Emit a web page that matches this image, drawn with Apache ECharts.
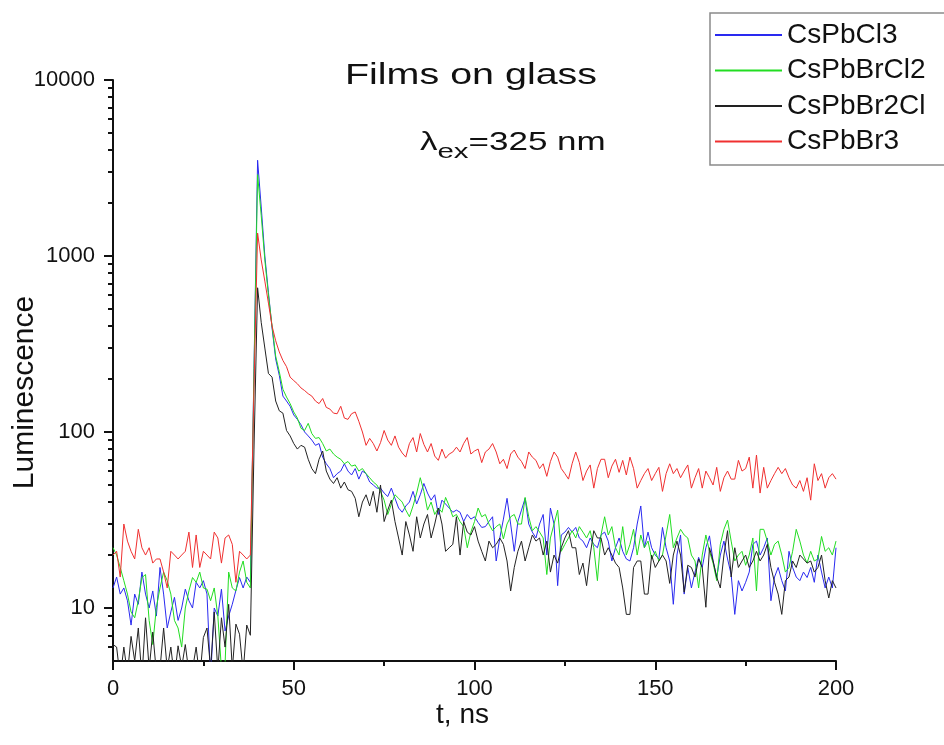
<!DOCTYPE html>
<html>
<head>
<meta charset="utf-8">
<script src="https://cdn.jsdelivr.net/npm/echarts@6/dist/echarts.min.js"></script>
<style>html,body{margin:0;padding:0;background:#fff;}#c{width:944px;height:745px;}</style>
</head>
<body>
<div id="c"></div>
<script>
// time axis: t = 0..200 ns, 1 ns channels
const tStart = 0, tStep = 1, nPts = 201;
const seriesNames = ['CsPbCl3', 'CsPbBrCl2', 'CsPbBr2Cl', 'CsPbBr3'];
const xTicks = [0, 50, 100, 150, 200];
const yMajorTicks = [10, 100, 1000, 10000];
const yMinorTicks = [6, 7, 8, 9, 20, 30, 40, 50, 60, 70, 80, 90, 200, 300, 400, 500, 600, 700, 800, 900, 2000, 3000, 4000, 5000, 6000, 7000, 8000, 9000];

const CsPbCl3 = [
13,15,12,13,11,8,12,10.5,16,12,
10,12.5,9,17,12,7.7,9.5,11.5,8.5,10,
12.8,11,10,14,13,14.3,12,4,10,9,
12.8,7.4,9,10.5,12.6,14.9,13,15,14,230,
3500,1900,1000,620,390,260,210,160,150,140,
125,118,110,100,95,90,84,86,72,66,
62,55,58,60,66,60,57,62,54,60,
58,52,50,48,48,45,43,48,42,37,
35,38,40,46,39,44,51,45,41,44,
34,41,39,37,35,36,35,31,34,32,
33,30.6,28.7,29,31,33,18.5,25,32,42,
30,21,31,36,42,30,27,25,30,34,
20,37,30,13.4,26,27,28.7,27,28.7,25,
24,22,25,23,22,26,27,24,18.5,22,
25,21,19,18.5,22,30,38,22,27,22,
20,19,28.7,22,18.5,10.5,20,26,12,17,
13,16,19.4,17,22,25.7,18.5,14.9,20,24,
19,15.5,9.2,14.3,12.5,14,16,23,24,20,
22,25,11,15,17,14.3,12.5,21,17,15,
14.3,16,14.9,17,14,20,16,13,15,13,
22];

const CsPbBrCl2 = [
22,20,17,14.3,12,9.5,8.8,11,14.9,15.5,
8.5,6.2,10.1,13,16,14.3,12,8.5,7.7,6,
10,12.5,14.9,14,16,13,12.8,11,13,9,
4.5,4.8,16,13,12.5,16,18.5,14,13,220,
2900,1700,950,600,400,270,220,175,158,145,
130,120,105,102,112,98,92,93,86,78,
80,75,72,70,66,68,64,65,60,62,
58,55,52,50,46,41,34,39,44,42,
40,36,33,38,45,55,46,36,40,34,
37,35,42.5,38,33,34,31,29,22,27,
31,37,33,34,30,27.5,29,30,24.7,30,
33,34,30,30,42.5,33,27.5,29,27,25,
15.5,25,30,36,21,23,25,27.5,25,29,
27,25,27.5,22,14.3,26,33,26,29,22,
20,29,20,23,28,20,26,22,24,19,
21,18.5,20,26,34,22,25,28,26,25,
20,18.5,13,20,26,21,18,14.3,23,28,
31.6,24,18.5,20,21,17.5,20,25,12.5,28,
28,24,20,23,24,20,16,17,21,28,
24,20,18,21,18.5,19,25.5,21,22,20,
24];

const CsPbBr2Cl = [
6.2,6,4,6,4.2,6.9,5,7.7,4,8.8,
4.5,7.3,4.3,4.5,7.7,4.5,6,4,6.1,4.6,
6.2,4.3,4.5,6,4,6.8,7.7,4.5,9.5,4.4,
8.8,6,10.5,4.5,8.1,7.1,4.3,8,7,80,
660,420,300,215,205,150,132,128,102,95,
86,80,84,82,70,62,58,70,78,60,
54,51,55,48,52,47,46,42,33,40,
44,38,46,35,50,31,36,41,31,25,
20,31,26,21,33,25,30,34,25,30,
37,30,21,22,23,33,20,31,27,26,
29,24,21,18.5,24,22,23,25,23,18.5,
12.5,17,21,24,18.5,22,26,24,25,20,
24,16,20,18,22,25,27.5,22,22,15.5,
18,13.4,20,27.5,25,25,20,22,20,18,
17,13,9.2,9.2,17,18.5,18.5,12,12,20,
17,18.5,20,18.5,13.8,20,24,20,12.3,17.5,
17,15,19,17,10.1,22,18.5,15,13,20,
27.5,15,22,17,18.5,20,17,18.5,21,18.5,
20,23,17,14,12,9.2,14.3,15,18.5,17,
20,19,18,18.5,16,17,20,14.3,11.4,14.3,
13];

const CsPbBr3 = [
20,21,15,30,24,21,19,28,22,20,
22,18,19,19,16,13,21,20,19,20,
21,27,17,26,17,21,20,19,27,25,
18,25,26,23,14,21,20,19,20,180,
1350,950,720,540,400,330,285,255,235,205,
196,188,178,172,165,160,150,145,155,138,
135,128,127,140,120,118,127,130,115,100,
84,92,86,78,87,102,90,84,95,82,
76,72,86,93,77,98,85,77,86,73,
69,80,71,75,77,82,77,86,93,75,
78,80,67,77,80,86,77,66,70,62,
75,79,72,68,62,77,72,69,62,66,
56,68,77,72,62,58,54,66,77,67,
53,60,65,48,62,70,70,55,64,70,
59,69,57,72,62,48,53,58,62,53,
58,63,46,58,66,58,62,55,60,65,
48,55,62,48,60,55,50,63,46,55,
60,54,54,69,60,62,72,48,74,45,
63,48,53,58,63,58,62,55,50,48,
53,46,55,41,66,53,58,48,55,58,
54];

const seriesValues = [CsPbCl3, CsPbBrCl2, CsPbBr2Cl, CsPbBr3];
const seriesColors = ['#2a2af0', '#22dd22', '#222222', '#f03030'];

function pairs(vals) {
  return vals.map((v, i) => [tStart + i * tStep, v]);
}

const FONT = '"Liberation Sans", Arial, sans-serif';
const chart = echarts.init(document.getElementById('c'), null, {renderer: 'canvas', width: 944, height: 745});

chart.setOption({
  animation: false,
  backgroundColor: '#ffffff',
  grid: {left: 113, right: 108, top: 80, bottom: 84, containLabel: false, outerBoundsMode: 'none'},
  legend: {
    orient: 'vertical',
    left: 710, top: 13,
    padding: [7, 6, 7, 4],
    itemWidth: 67, itemHeight: 14, itemGap: 5.5,
    itemStyle: {opacity: 0},
    textStyle: {fontFamily: FONT, fontSize: 28, lineHeight: 30, color: '#111'},
    data: seriesNames
  },
  xAxis: {
    type: 'value', min: 0, max: 200, interval: 50,
    name: 't, ns', nameLocation: 'middle', nameGap: 40, nameMoveOverlap: false,
    nameTextStyle: {fontFamily: FONT, fontSize: 28, color: '#111', padding: [0, 24, 0, 0]},
    axisLine: {show: true, onZero: false, lineStyle: {color: '#111', width: 2}},
    axisTick: {show: true, inside: false, length: 9, lineStyle: {color: '#111', width: 2}, customValues: xTicks},
    minorTick: {show: true, splitNumber: 2, length: 5, lineStyle: {color: '#111', width: 2}},
    axisLabel: {fontFamily: FONT, fontSize: 22, color: '#111', margin: 17, customValues: xTicks},
    splitLine: {show: false}
  },
  yAxis: [{
    type: 'log', logBase: 10, min: 5, max: 10000,
    name: 'Luminescence', nameLocation: 'middle', nameGap: 73, nameMoveOverlap: false,
    nameTextStyle: {fontFamily: FONT, fontSize: 30, color: '#111', padding: [0, 44, 0, 0]},
    axisLine: {show: true, onZero: false, lineStyle: {color: '#111', width: 2}},
    axisTick: {show: true, inside: false, length: 9, lineStyle: {color: '#111', width: 2}, customValues: yMajorTicks},
    axisLabel: {fontFamily: FONT, fontSize: 22, color: '#111', margin: 18, customValues: yMajorTicks,
      formatter: v => String(Math.round(v))},
    splitLine: {show: false}
  }, {
    type: 'log', logBase: 10, min: 5, max: 10000, position: 'left',
    axisLine: {show: false},
    axisTick: {show: true, inside: false, length: 5, lineStyle: {color: '#111', width: 2}, customValues: yMinorTicks},
    axisLabel: {show: false},
    splitLine: {show: false}
  }],
  series: seriesNames.map((name, k) => ({
    name: name,
    type: 'line',
    yAxisIndex: 0,
    data: pairs(seriesValues[k]),
    symbol: 'none',
    showSymbol: false,
    clip: true,
    color: seriesColors[k],
    lineStyle: {width: 1, color: seriesColors[k]},
    z: 2 + k
  })),
  graphic: [
    {type: 'text', x: 345, y: 61, scaleX: 1.36, style: {text: 'Films on glass', fontFamily: FONT, fontSize: 29, lineHeight: 29, fill: '#111', verticalAlign: 'top'}},
    {type: 'text', x: 420, y: 131, scaleX: 1.4, style: {
      text: '{a|λ}{b|ex}{c|=325 nm}', verticalAlign: 'top', fill: '#111',
      rich: {
        a: {fontFamily: FONT, fontSize: 25, lineHeight: 25, verticalAlign: 'top', fill: '#111'},
        b: {fontFamily: FONT, fontSize: 21, lineHeight: 21, verticalAlign: 'top', padding: [11, 0, 0, 0], fill: '#111'},
        c: {fontFamily: FONT, fontSize: 25, lineHeight: 25, verticalAlign: 'top', fill: '#111'}
      }
    }},
    {type: 'rect', shape: {x: 710, y: 13, width: 250, height: 152}, style: {fill: 'none', stroke: '#8a8a8a', lineWidth: 1.5}, z: 10}
  ]
});
</script>
</body>
</html>
